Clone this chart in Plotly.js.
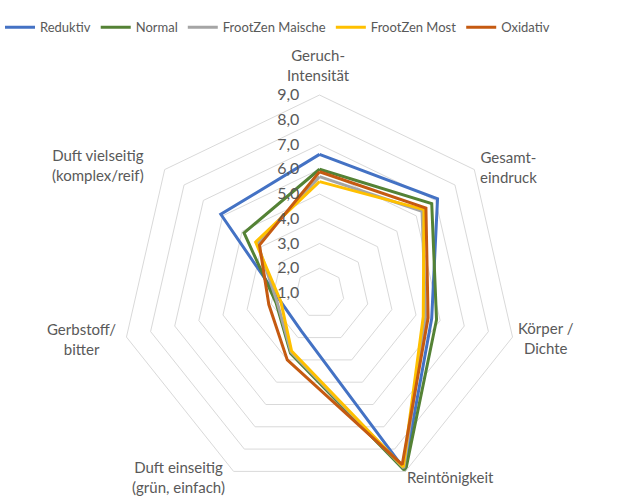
<!DOCTYPE html>
<html>
<head>
<meta charset="utf-8">
<script src="https://cdn.plot.ly/plotly-3.0.1.min.js"></script>
<style>html,body{margin:0;padding:0;background:#fff;}#chart{width:630px;height:496px;}</style>
</head>
<body>
<div id="chart"></div>
<script>
const categories = [
  "Geruch-<br>Intensität",
  "Gesamt-<br>eindruck",
  "Körper /<br>Dichte",
  "Reintönigkeit",
  "Duft einseitig<br>(grün, einfach)",
  "Gerbstoff/<br>bitter",
  "Duft vielseitig<br>(komplex/reif)"
];
const seriesNames = ["Reduktiv", "Normal", "FrootZen Maische", "FrootZen Most", "Oxidativ"];
const reduktiv        = [6.6, 7.1, 5.65, 8.9, 2.7, 2.6, 6.1];
const normal          = [6.0, 6.8, 5.85, 9.0, 3.7, 2.8, 4.9];
const frootzenMaische = [5.7, 6.3, 5.4, 8.85, 3.65, 2.75, 4.2];
const frootzenMost    = [5.5, 6.4, 5.3, 8.8, 3.6, 2.6, 4.3];
const oxidativ        = [5.9, 6.5, 5.5, 8.7, 4.0, 3.1, 4.1];
const tickValues = [1, 2, 3, 4, 5, 6, 7, 8, 9];

const seriesValues = [reduktiv, normal, frootzenMaische, frootzenMost, oxidativ];
const colors = ["#4472C4", "#548235", "#A5A5A5", "#FFC000", "#C55A11"];

const traces = seriesValues.map((vals, i) => ({
  type: "scatterpolar",
  mode: "lines",
  name: seriesNames[i],
  r: vals.concat([vals[0]]),
  theta: categories.concat([categories[0]]),
  line: {color: colors[i], width: 3},
  hoverinfo: "skip"
}));

const W = 630, H = 496;
const domX = [121.5 / W, 517.5 / W];
const domY = [1 - 491 / H, 1 - 95 / H];
const cx = (domX[0] + domX[1]) / 2, cy = (domY[0] + domY[1]) / 2;
const Rx = (domX[1] - domX[0]) / 2, Ry = (domY[1] - domY[0]) / 2;

// label placement styles (anchor + pixel shift from the outer vertex)
const labelStyle = [
  {xa: "center", ya: "bottom", dx: -1, dy: 9},
  {xa: "left",   ya: "middle", dx: 4,  dy: 3},
  {xa: "left",   ya: "middle", dx: 3,  dy: -1},
  {xa: "left",   ya: "middle", dx: 0,  dy: -6},
  {xa: "right",  ya: "middle", dx: -7, dy: -6},
  {xa: "right",  ya: "middle", dx: -8, dy: -2},
  {xa: "right",  ya: "middle", dx: -19, dy: 5}
];
const font = "Lato, 'Open Sans', sans-serif";
const annotations = categories.map((c, i) => {
  const a = (90 - i * 360 / categories.length) * Math.PI / 180;
  const s = labelStyle[i];
  return {
    text: c, xref: "paper", yref: "paper",
    x: cx + Rx * Math.cos(a), y: cy + Ry * Math.sin(a),
    xanchor: s.xa, yanchor: s.ya, xshift: s.dx, yshift: s.dy,
    align: "center", showarrow: false,
    font: {family: font, size: 15, color: "#595959"}
  };
});

const layout = {
  width: W, height: H,
  margin: {l: 0, r: 0, t: 0, b: 0},
  paper_bgcolor: "#fff",
  separators: ",.",
  font: {family: font, color: "#595959", size: 14},
  showlegend: true,
  legend: {
    orientation: "h", x: 0, xanchor: "left", y: 0.975, yanchor: "top",
    font: {family: font, size: 13, color: "#595959"},
    itemwidth: 30, tracegroupgap: 0
  },
  annotations: annotations,
  polar: {
    domain: {x: domX, y: domY},
    gridshape: "linear",
    bgcolor: "#fff",
    radialaxis: {
      range: [1, 9], tickvals: tickValues, tickformat: ".1f",
      angle: 90, tickangle: 90, side: "counterclockwise",
      showline: false, ticks: "outside", ticklen: 14, tickcolor: "rgba(0,0,0,0)",
      gridcolor: "#D9D9D9", gridwidth: 1,
      tickfont: {family: font, size: 16, color: "#595959"}
    },
    angularaxis: {
      rotation: 90, direction: "clockwise",
      showgrid: false, showline: true, linecolor: "#D9D9D9", linewidth: 1,
      ticks: "", showticklabels: false
    }
  }
};

Plotly.newPlot("chart", traces, layout, {displayModeBar: false, staticPlot: true});
</script>
</body>
</html>
